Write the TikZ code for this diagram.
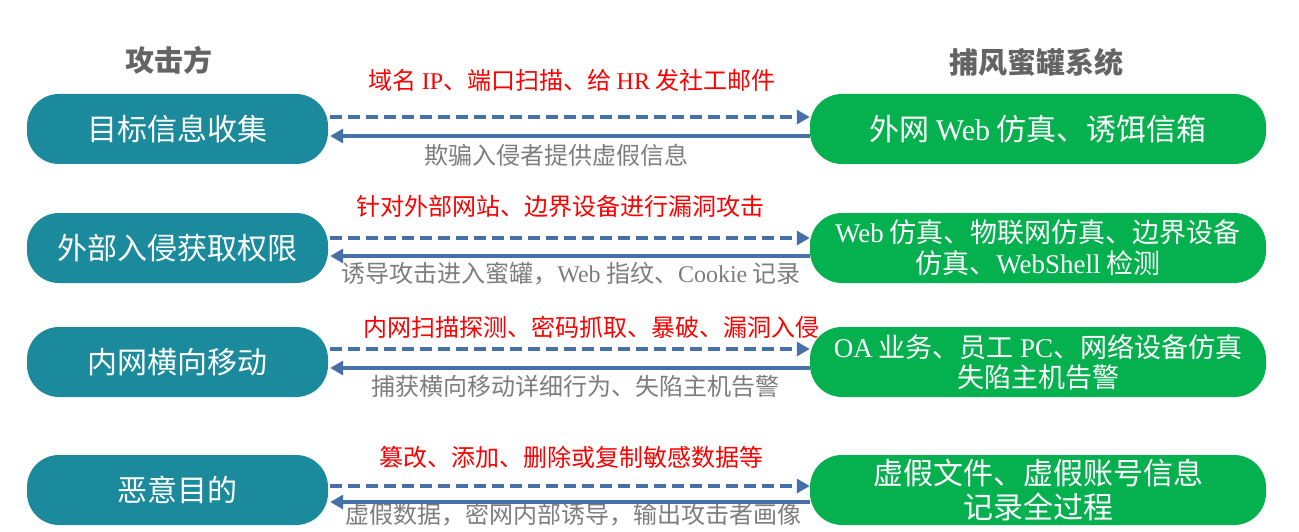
\documentclass[tikz,border=0pt]{standalone}
\usepackage{fontspec}
\setmainfont{Noto Sans CJK SC}
\newfontfamily\lat{Liberation Serif}
\usetikzlibrary{arrows.meta}
\definecolor{teal1}{RGB}{27,138,156}
\definecolor{green1}{RGB}{5,176,78}
\definecolor{arrblue}{RGB}{70,112,168}
\definecolor{redt}{RGB}{250,0,0}
\definecolor{grayt}{RGB}{125,125,125}
\definecolor{headg}{RGB}{100,100,100}
\tikzset{
  lbox/.style={fill=teal1, draw=none, rounded corners=32pt, minimum width=301pt, minimum height=70pt, text=white, font=\fontsize{30}{34}\selectfont, inner sep=0pt},
  rbox/.style={fill=green1, draw=none, rounded corners=32pt, minimum width=456pt, minimum height=70pt, text=white, align=center, inner sep=0pt},
  head/.style={text=headg, font=\fontsize{29}{32}\selectfont\bfseries},
  redlbl/.style={text=redt, font=\fontsize{24}{27}\selectfont, inner sep=0pt},
  graylbl/.style={text=grayt, font=\fontsize{24}{27}\selectfont, inner sep=0pt},
  dasharrow/.style={draw=arrblue, line width=3.6pt, dash pattern=on 12pt off 6pt, -{Triangle[length=13pt,width=14pt]}},
  solarrow/.style={draw=arrblue, line width=3.6pt, -{Triangle[length=13pt,width=14pt]}}
}
\begin{document}
\begin{tikzpicture}[x=1pt,y=-1pt]
\useasboundingbox (0,0) rectangle (1299,532);
% headers
\node[head] (h1) at (169,60) {攻击方};
\node[head] (h2) at (1036,62) {捕风蜜罐系统};
% left boxes
\node[lbox] (L1) at (177.5,129) {目标信息收集};
\node[lbox] (L2) at (177.5,248) {外部入侵获取权限};
\node[lbox] (L3) at (177.5,362) {内网横向移动};
\node[lbox] (L4) at (177.5,490) {恶意目的};
% right boxes
\node[rbox, font=\fontsize{30}{34}\selectfont] (R1) at (1038,129) {外网 {\lat Web} 仿真、诱饵信箱};
\node[rbox, font=\fontsize{27}{31}\selectfont] (R2) at (1038,248) {{\lat Web} 仿真、物联网仿真、边界设备\\仿真、{\lat WebShell} 检测};
\node[rbox, font=\fontsize{27}{30}\selectfont] (R3) at (1038,362) {{\lat OA} 业务、员工 {\lat PC}、网络设备仿真\\失陷主机告警};
\node[rbox, font=\fontsize{30}{34}\selectfont] (R4) at (1038,490) {虚假文件、虚假账号信息\\记录全过程};
% labels
\node[redlbl] (t1) at (572,80) {域名 {\lat IP}、端口扫描、给 {\lat HR} 发社工邮件};
\node[graylbl] (g1) at (556,155) {欺骗入侵者提供虚假信息};
\node[redlbl] (t2) at (560,206) {针对外部网站、边界设备进行漏洞攻击};
\node[graylbl] (g2) at (571,274) {诱导攻击进入蜜罐，{\lat Web} 指纹、{\lat Cookie} 记录};
\node[redlbl] (t3) at (591,327) {内网扫描探测、密码抓取、暴破、漏洞入侵};
\node[graylbl] (g3) at (575,386) {捕获横向移动详细行为、失陷主机告警};
\node[redlbl] (t4) at (571,457) {篡改、添加、删除或复制敏感数据等};
\node[graylbl] (g4) at (573,515) {虚假数据，密网内部诱导，输出攻击者画像};
% arrows
\draw[dasharrow] ([xshift=2pt]L1.east |- 0,117) -- (R1.west |- 0,117);
\draw[solarrow] (R1.west |- 0,136) -- ([xshift=2pt]L1.east |- 0,136);
\draw[dasharrow] ([xshift=2pt]L2.east |- 0,238) -- (R2.west |- 0,238);
\draw[solarrow] (R2.west |- 0,256) -- ([xshift=2pt]L2.east |- 0,256);
\draw[dasharrow] ([xshift=2pt]L3.east |- 0,349) -- (R3.west |- 0,349);
\draw[solarrow] (R3.west |- 0,368) -- ([xshift=2pt]L3.east |- 0,368);
\draw[dasharrow] ([xshift=2pt]L4.east |- 0,486) -- (R4.west |- 0,486);
\draw[solarrow] (R4.west |- 0,502) -- ([xshift=2pt]L4.east |- 0,502);
\end{tikzpicture}
\end{document}
